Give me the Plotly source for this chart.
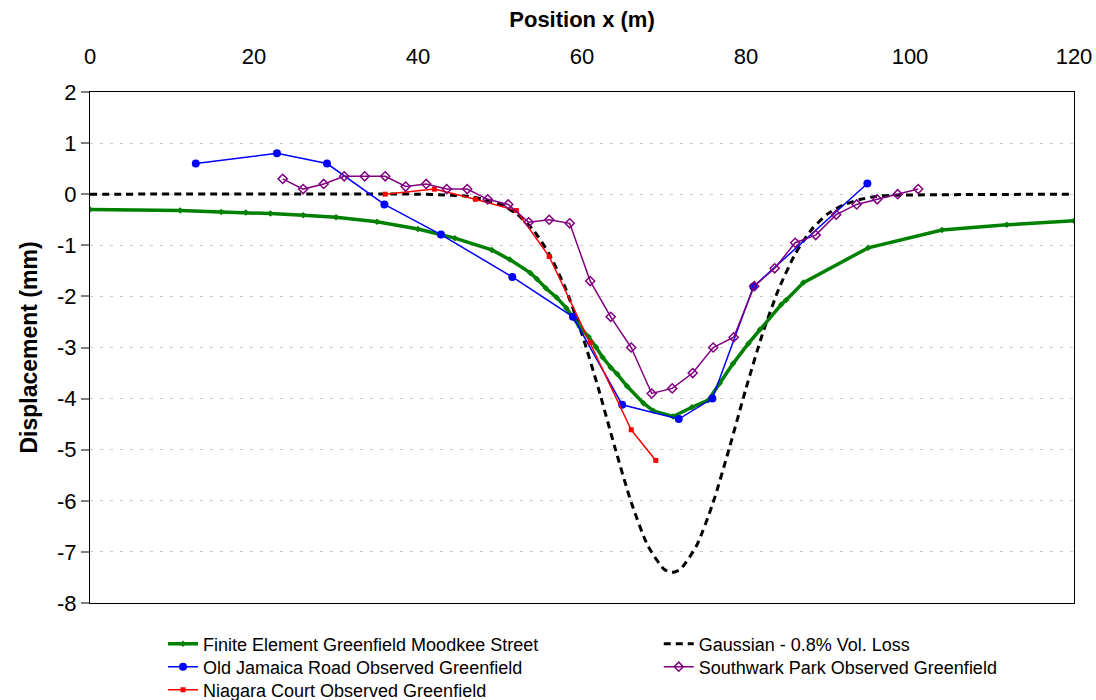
import plotly.graph_objects as go

# Finite element prediction, Moodkee Street (greenfield)
fe_x = [0, 11, 16, 19, 22, 26, 30, 35, 40, 44.5, 49, 51.2, 53.7, 54.5, 55.6, 56.9,
        58.1, 59.7, 60.8, 61.7, 62.5, 63.5, 64.3, 65.5, 67.5, 68.7, 71.1, 73.4,
        75.4, 76.8, 78.4, 80.3, 81.7, 84.3, 84.9, 87.0, 94.9, 103.9, 111.8, 120]
fe_y = [-0.30, -0.32, -0.35, -0.36, -0.38, -0.41, -0.45, -0.54, -0.68, -0.86,
        -1.09, -1.28, -1.54, -1.66, -1.84, -2.02, -2.23, -2.59, -2.79, -2.99,
        -3.19, -3.39, -3.52, -3.76, -4.09, -4.24, -4.35, -4.17, -4.03, -3.70,
        -3.32, -2.92, -2.65, -2.16, -2.07, -1.73, -1.05, -0.70, -0.60, -0.52]

# Gaussian settlement trough, 0.8% volume loss
gauss_x = [0, 40, 44, 46, 48, 50, 52, 54, 56, 58, 60, 62, 64, 66, 68, 70, 71,
           72, 74, 76, 78, 80, 82, 84, 86, 88, 90, 92, 94, 96, 98, 120]
gauss_y = [0, 0, -0.02, -0.04, -0.10, -0.20, -0.38, -0.69, -1.17, -1.85, -2.74,
           -3.80, -4.95, -6.03, -6.87, -7.34, -7.40, -7.34, -6.87, -6.03, -4.95,
           -3.80, -2.74, -1.85, -1.17, -0.69, -0.38, -0.20, -0.10, -0.04, -0.02, 0]

# Old Jamaica Road observations
ojr_x = [12.9, 22.8, 28.9, 35.9, 42.8, 51.5, 58.9, 64.9, 71.8, 75.9, 80.9, 94.8]
ojr_y = [0.60, 0.80, 0.60, -0.20, -0.79, -1.62, -2.40, -4.12, -4.40, -4.00, -1.81, 0.21]

# Southwark Park observations
sw_x = [23.5, 26, 28.5, 31, 33.5, 36, 38.5, 41, 43.5, 46, 48.5, 51, 53.5, 56,
        58.5, 61, 63.5, 66, 68.5, 71, 73.5, 76, 78.5, 81, 83.5, 86, 88.5, 91,
        93.5, 96, 98.5, 101]
sw_y = [0.30, 0.10, 0.20, 0.35, 0.35, 0.35, 0.15, 0.20, 0.10, 0.10, -0.10, -0.20,
        -0.55, -0.50, -0.57, -1.70, -2.40, -3.00, -3.90, -3.80, -3.50, -3.00,
        -2.80, -1.80, -1.45, -0.95, -0.80, -0.40, -0.20, -0.10, 0.00, 0.10]

# Niagara Court observations
nc_x = [36, 42, 47, 52, 56, 61, 66, 69]
nc_y = [0.0, 0.10, -0.10, -0.32, -1.22, -2.90, -4.61, -5.21]

# Axis ticks
x_ticks = [0, 20, 40, 60, 80, 100, 120]
y_ticks = [2, 1, 0, -1, -2, -3, -4, -5, -6, -7, -8]
y_tick_labels = ["2", "1", "0", "-1", "-2", "-3", "-4", "-5", "-6", "-7", "-8"]

FONT = "Liberation Sans, Arial, sans-serif"

fig = go.Figure()

fig.add_trace(go.Scatter(
    x=gauss_x, y=gauss_y, mode="lines", name="Gaussian - 0.8% Vol. Loss",
    line=dict(color="black", width=3, dash="7px,5px", shape="spline", smoothing=0.6),
    legend="legend4"))

fig.add_trace(go.Scatter(
    x=fe_x, y=fe_y, mode="lines+markers",
    name="Finite Element Greenfield Moodkee Street",
    line=dict(color="#008000", width=3.5),
    marker=dict(symbol="diamond", size=5, color="#008000"),
    legend="legend"))

fig.add_trace(go.Scatter(
    x=ojr_x, y=ojr_y, mode="lines+markers",
    name="Old Jamaica Road Observed Greenfield",
    line=dict(color="#0000FF", width=1.5),
    marker=dict(symbol="circle", size=8, color="#0000FF"),
    legend="legend2"))

fig.add_trace(go.Scatter(
    x=nc_x, y=nc_y, mode="lines+markers",
    name="Niagara Court Observed Greenfield",
    line=dict(color="#FF0000", width=1.5),
    marker=dict(symbol="square", size=5, color="#FF0000"),
    legend="legend3"))

fig.add_trace(go.Scatter(
    x=sw_x, y=sw_y, mode="lines+markers",
    name="Southwark Park Observed Greenfield",
    line=dict(color="#800080", width=1.5),
    marker=dict(symbol="diamond-open", size=7, color="#800080",
                line=dict(color="#800080", width=1.5)),
    legend="legend5"))

legend_common = dict(
    orientation="v", xanchor="left", yanchor="middle",
    font=dict(family=FONT, size=18, color="black"),
    bgcolor="rgba(0,0,0,0)", borderwidth=0,
    itemclick=False, itemdoubleclick=False,
)

# legend rows below the plot, two columns
col1_x, col2_x = 0.0742, 0.578
row_y = [-0.0802, -0.1252, -0.1703]

fig.update_layout(
    width=1096, height=700,
    margin=dict(l=90, r=22, t=92, b=97, autoexpand=False),
    paper_bgcolor="white", plot_bgcolor="white",
    font=dict(family=FONT, color="black"),
    showlegend=True,
    legend=dict(x=col1_x, y=row_y[0], **legend_common),
    legend2=dict(x=col1_x, y=row_y[1], **legend_common),
    legend3=dict(x=col1_x, y=row_y[2], **legend_common),
    legend4=dict(x=col2_x, y=row_y[0], **legend_common),
    legend5=dict(x=col2_x, y=row_y[1], **legend_common),
)

fig.update_xaxes(
    side="top", range=[0, 120], tickvals=x_ticks,
    showline=True, linecolor="black", linewidth=1.3, mirror=True,
    ticks="", showgrid=False, zeroline=False,
    tickfont=dict(family=FONT, size=22, color="black"),
    ticklabelstandoff=18,
    title=dict(text="<b>Position x (m)</b>",
               font=dict(family=FONT, size=22, color="black"), standoff=10),
)

fig.update_yaxes(
    range=[-8, 2], tickvals=y_ticks, ticktext=y_tick_labels,
    showline=True, linecolor="black", linewidth=1.3, mirror=True,
    ticks="outside", ticklen=8, tickcolor="#808080", tickwidth=1.5,
    showgrid=True, gridcolor="#c8c8c8", gridwidth=1, griddash="3px,7px",
    zeroline=False,
    tickfont=dict(family=FONT, size=22, color="black"),
    title=dict(text="<b>Displacement (mm)</b>",
               font=dict(family=FONT, size=23, color="black"), standoff=12),
)

fig.write_html("out.html")
